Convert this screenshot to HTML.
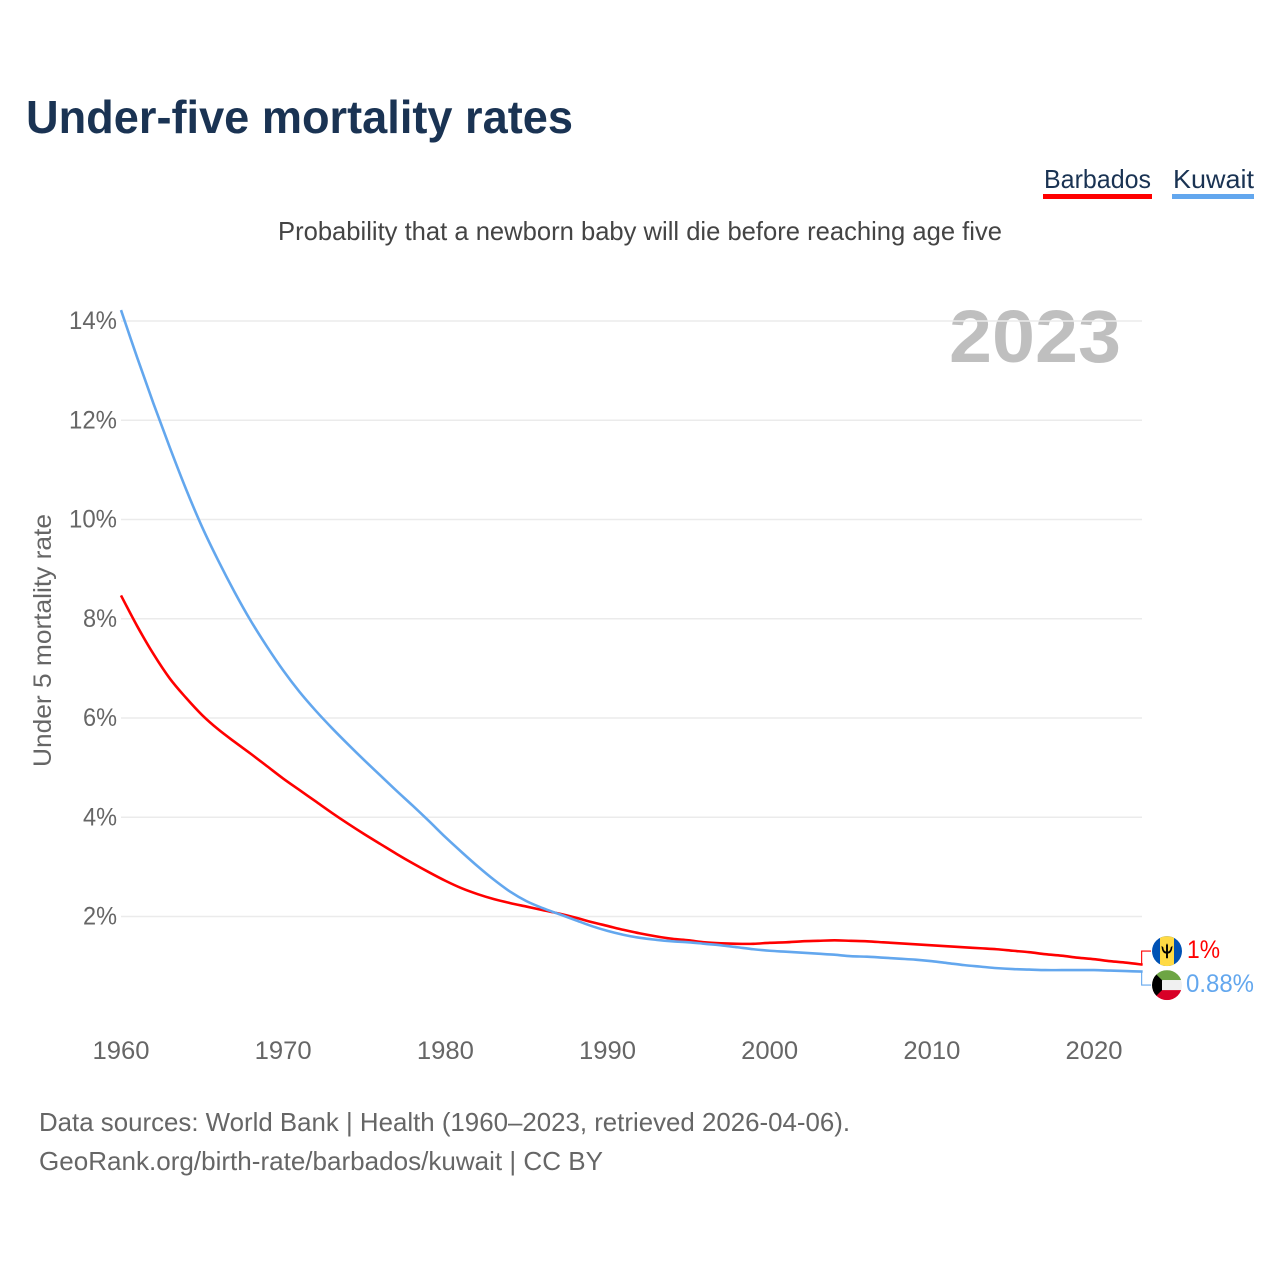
<!DOCTYPE html>
<html lang="en">
<head>
<meta charset="utf-8">
<title>Under-five mortality rates</title>
<style>
html,body{margin:0;padding:0;background:#fff;width:1280px;height:1280px;overflow:hidden}
svg{display:block}
text{font-family:"Liberation Sans",sans-serif}
</style>
</head>
<body>
<svg id="chart" width="1280" height="1280" viewBox="0 0 1280 1280" xmlns="http://www.w3.org/2000/svg">
  <defs>
    <clipPath id="flag-clip-a"><circle cx="0" cy="0" r="15"/></clipPath>
  </defs>
  <text x="26" y="133" font-size="46" font-weight="700" fill="#1a3353" textLength="547" lengthAdjust="spacingAndGlyphs">Under-five mortality rates</text>

  <text x="1044" y="188" font-size="26" fill="#1a3353" textLength="107" lengthAdjust="spacingAndGlyphs">Barbados</text>
  <rect x="1043" y="194" width="109" height="5" fill="#ff0000"/>
  <text x="1173" y="188" font-size="26" fill="#1a3353" textLength="81" lengthAdjust="spacingAndGlyphs">Kuwait</text>
  <rect x="1172" y="194" width="82" height="5" fill="#63a7ee"/>

  <text x="278" y="240" font-size="26" fill="#444444" textLength="724" lengthAdjust="spacingAndGlyphs">Probability that a newborn baby will die before reaching age five</text>

  <text x="51" y="767" transform="rotate(-90 51 767)" font-size="25" fill="#666666" textLength="253" lengthAdjust="spacingAndGlyphs">Under 5 mortality rate</text>

  <text x="949" y="362" font-size="74" font-weight="700" fill="#000000" fill-opacity="0.25" textLength="172" lengthAdjust="spacingAndGlyphs">2023</text>

  <g id="grid"></g>
  <g id="y-ticks"></g>
  <g id="x-ticks"></g>
  <g id="series"></g>
  <g id="end-labels"></g>

  <text x="39" y="1131" font-size="26" fill="#666666" textLength="811" lengthAdjust="spacingAndGlyphs">Data sources: World Bank | Health (1960–2023, retrieved 2026-04-06).</text>
  <text x="39" y="1170" font-size="26" fill="#666666" textLength="564" lengthAdjust="spacingAndGlyphs">GeoRank.org/birth-rate/barbados/kuwait | CC BY</text>
</svg>
<script>
const startYear = 1960;
const barbados = [8.47,7.85,7.29,6.8,6.41,6.06,5.77,5.52,5.28,5.03,4.78,4.55,4.32,4.09,3.87,3.66,3.46,3.26,3.07,2.89,2.72,2.57,2.45,2.35,2.27,2.2,2.13,2.06,1.98,1.89,1.81,1.73,1.66,1.6,1.55,1.52,1.48,1.46,1.45,1.45,1.47,1.48,1.5,1.51,1.52,1.51,1.5,1.48,1.46,1.44,1.42,1.4,1.38,1.36,1.34,1.31,1.28,1.24,1.21,1.17,1.14,1.1,1.07,1.03];
const kuwait = [14.22,13.26,12.34,11.46,10.62,9.85,9.17,8.54,7.96,7.44,6.96,6.53,6.15,5.8,5.47,5.15,4.84,4.53,4.23,3.92,3.6,3.3,3.01,2.74,2.5,2.31,2.17,2.05,1.93,1.81,1.71,1.63,1.57,1.53,1.5,1.48,1.45,1.42,1.38,1.34,1.31,1.29,1.27,1.25,1.23,1.2,1.19,1.17,1.15,1.13,1.1,1.06,1.02,0.99,0.96,0.94,0.93,0.92,0.92,0.92,0.92,0.91,0.9,0.89];
const yTickValues = [2,4,6,8,10,12,14];
const xTickValues = [1960,1970,1980,1990,2000,2010,2020];
const endLabels = ["1%","0.88%"];

const NS = "http://www.w3.org/2000/svg";
function xScale(year){ return 121 + (year - 1960) * (1094 - 121) / 60; }
function yScale(v){ return 1015.75 - v * 49.625; }
function make(tag, attrs, parent, text){
  const el = document.createElementNS(NS, tag);
  for (const k in attrs) el.setAttribute(k, attrs[k]);
  if (text !== undefined) el.textContent = text;
  parent.appendChild(el);
  return el;
}
const grid = document.getElementById('grid');
const yTicks = document.getElementById('y-ticks');
const xTicks = document.getElementById('x-ticks');
const seriesG = document.getElementById('series');
const endG = document.getElementById('end-labels');

yTickValues.forEach(function(v){
  const line = make('line', {x1:121, x2:1142, y1:yScale(v), y2:yScale(v), stroke:'#ebebeb', 'stroke-width':1.5}, grid);
  
  
  const label = make('text', {x:117, y:yScale(v)+8, 'font-size':25, fill:'#666666', 'text-anchor':'end', textLength:(v >= 10 ? 48 : 34), lengthAdjust:'spacingAndGlyphs'}, yTicks, v + '%');
  
  
});
xTickValues.forEach(function(y){
  const label = make('text', {x:xScale(y), y:1059, 'font-size':25, fill:'#666666', 'text-anchor':'middle', textLength:57, lengthAdjust:'spacingAndGlyphs'}, xTicks, String(y));
  
  
});
function pathFor(values){
  const pts = values.map(function(v,i){ return [xScale(startYear + i), yScale(v)]; });
  let d = 'M' + pts[0][0].toFixed(2) + ' ' + pts[0][1].toFixed(2);
  for (let i = 0; i < pts.length - 1; i++) {
    const p0 = pts[Math.max(i - 1, 0)], p1 = pts[i], p2 = pts[i + 1], p3 = pts[Math.min(i + 2, pts.length - 1)];
    const c1x = p1[0] + (p2[0] - p0[0]) / 6, c1y = p1[1] + (p2[1] - p0[1]) / 6;
    const c2x = p2[0] - (p3[0] - p1[0]) / 6, c2y = p2[1] - (p3[1] - p1[1]) / 6;
    d += ' C' + c1x.toFixed(2) + ' ' + c1y.toFixed(2) + ' ' + c2x.toFixed(2) + ' ' + c2y.toFixed(2) + ' ' + p2[0].toFixed(2) + ' ' + p2[1].toFixed(2);
  }
  return d;
}
const redLine = make('path', {d:pathFor(barbados), fill:'none', stroke:'#ff0000', 'stroke-width':2.6, 'stroke-linejoin':'round'}, seriesG);


const blueLine = make('path', {d:pathFor(kuwait), fill:'none', stroke:'#63a7ee', 'stroke-width':2.6, 'stroke-linejoin':'round'}, seriesG);



const lastYear = startYear + barbados.length - 1;
const endX = xScale(lastYear);
const yB = yScale(barbados[barbados.length - 1]);
const yK = yScale(kuwait[kuwait.length - 1]);
const midY = (yB + yK) / 2;
const labelYB = midY - 17;
const labelYK = midY + 17;

const connB = make('path', {d:'M' + (endX - 1) + ' ' + yB + ' L' + (endX - 1) + ' ' + labelYB + ' L1151 ' + labelYB, fill:'none', stroke:'#ff0000', 'stroke-width':1.1}, endG);


const connK = make('path', {d:'M' + (endX - 1) + ' ' + yK + ' L' + (endX - 1) + ' ' + labelYK + ' L1151 ' + labelYK, fill:'none', stroke:'#63a7ee', 'stroke-width':1.1}, endG);



const flagB = make('g', {transform:'translate(1167 ' + labelYB + ')', 'clip-path':'url(#flag-clip-a)'}, endG);


make('rect', {x:-15, y:-15, width:30, height:30, fill:'#0052b4'}, flagB);
make('rect', {x:-7, y:-15, width:14, height:30, fill:'#ffda44'}, flagB);
make('path', {d:'M-4.5 -4.5 C-4.5 1 -2 2 -0.8 2 L-0.8 6 L0.8 6 L0.8 2 C2 2 4.5 1 4.5 -4.5 L3 -3 C3 -1 2 0 0.8 0.4 L0.8 -5 L0 -6.5 L-0.8 -5 L-0.8 0.4 C-2 0 -3 -1 -3 -3 Z', fill:'#000000', transform:'scale(1.2)'}, flagB);

const flagK = make('g', {transform:'translate(1167 ' + labelYK + ')', 'clip-path':'url(#flag-clip-a)'}, endG);


make('rect', {x:-15, y:-15, width:30, height:10, fill:'#6da544'}, flagK);
make('rect', {x:-15, y:-5, width:30, height:10, fill:'#f0f0f0'}, flagK);
make('rect', {x:-15, y:5, width:30, height:10, fill:'#d80027'}, flagK);
make('path', {d:'M-15 -15 L-5 -5 L-5 5 L-15 15 Z', fill:'#000000'}, flagK);

const valB = make('text', {x:1187, y:labelYB+7, 'font-size':25, fill:'#ff0000', textLength:33, lengthAdjust:'spacingAndGlyphs'}, endG, endLabels[0]);


const valK = make('text', {x:1186, y:labelYK+7, 'font-size':25, fill:'#63a7ee', textLength:68, lengthAdjust:'spacingAndGlyphs'}, endG, endLabels[1]);


</script>
</body>
</html>
